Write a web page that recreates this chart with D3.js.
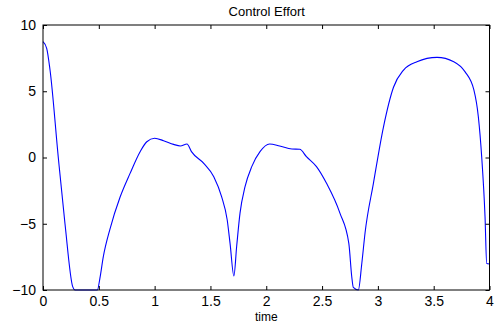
<!DOCTYPE html>
<html>
<head>
<meta charset="utf-8">
<script src="https://cdn.jsdelivr.net/npm/d3@7/dist/d3.min.js"></script>
<style>
  html, body { margin: 0; padding: 0; background: #fff; }
  svg { display: block; }
  text { font-family: "Liberation Sans", Arial, Helvetica, sans-serif; fill: #000; }
</style>
</head>
<body>
<svg id="chart" width="497" height="324"></svg>
<script>
const title = "Control Effort";
const xLabel = "time";
const xTicks = [0, 0.5, 1, 1.5, 2, 2.5, 3, 3.5, 4];
const yTicks = [-10, -5, 0, 5, 10];
const timeValues = [0, 0.033, 0.063, 0.137, 0.197, 0.266, 0.287, 0.487, 0.51, 0.54, 0.6, 0.69, 0.78, 0.87, 0.93, 1.0, 1.08, 1.17, 1.23, 1.29, 1.33, 1.44, 1.53, 1.6, 1.65, 1.676, 1.71, 1.735, 1.765, 1.81, 1.87, 1.944, 2.03, 2.12, 2.23, 2.30, 2.36, 2.45, 2.54, 2.66, 2.74, 2.766, 2.78, 2.825, 2.856, 2.885, 2.96, 3.05, 3.14, 3.23, 3.35, 3.53, 3.68, 3.78, 3.86, 3.9, 3.93, 3.96, 3.975, 4.0];
const effortValues = [8.74, 8.24, 6.6, 0, -5, -9.75, -10, -10, -9.1, -7.5, -5.4, -3.0, -1.2, 0.44, 1.19, 1.45, 1.27, 0.99, 0.87, 1.02, 0.44, -0.44, -1.45, -2.96, -4.7, -6.5, -8.94, -6.7, -4.2, -2.2, -0.69, 0.44, 1.02, 0.87, 0.64, 0.62, 0.06, -0.69, -1.95, -4.2, -6.5, -9.0, -9.8, -10, -8.0, -5.7, -1.95, 2.3, 5.3, 6.6, 7.23, 7.56, 7.23, 6.48, 5.1, 3.08, 0.06, -4.47, -8.0, -8.04];

const svg = d3.select("#chart");
const m = { left: 43, right: 497 - 489.5, top: 25, bottom: 324 - 290 };
const W = 497, H = 324;
const x = d3.scaleLinear().domain([0, 4]).range([m.left, W - m.right]);
const y = d3.scaleLinear().domain([-10, 10]).range([H - m.bottom, m.top]);

const fmt = d => (d < 0 ? "\u2212" + Math.abs(d) : String(d));

// curve
const data = timeValues.map((t, i) => [t, effortValues[i]]);
svg.append("path")
  .datum(data)
  .attr("fill", "none")
  .attr("stroke", "#0000ff")
  .attr("stroke-width", 1.1)
  .attr("d", d3.line().x(d => x(d[0])).y(d => y(d[1])).curve(d3.curveMonotoneX));

// axes
const gb = svg.append("g").attr("transform", `translate(0,${y(-10)})`)
  .call(d3.axisBottom(x).tickValues(xTicks).tickSizeInner(-4).tickSizeOuter(0).tickPadding(6).tickFormat(fmt));
const gt = svg.append("g").attr("transform", `translate(0,${y(10)})`)
  .call(d3.axisTop(x).tickValues(xTicks).tickSizeInner(-4).tickSizeOuter(0).tickFormat(""));
const gl = svg.append("g").attr("transform", `translate(${x(0)},0)`)
  .call(d3.axisLeft(y).tickValues(yTicks).tickSizeInner(-4).tickSizeOuter(0).tickPadding(7).tickFormat(fmt));
const gr = svg.append("g").attr("transform", `translate(${x(4)},0)`)
  .call(d3.axisRight(y).tickValues(yTicks).tickSizeInner(-4).tickSizeOuter(0).tickFormat(""));

[gb, gt, gl, gr].forEach(g => {
  g.select(".domain").remove();
  g.selectAll("line").attr("stroke", "#000").attr("stroke-width", 1);
  g.selectAll("text").attr("font-size", 14).attr("font-family", "Liberation Sans, Arial, sans-serif").attr("fill", "#000");
});

svg.append("rect")
  .attr("x", x(0)).attr("y", y(10))
  .attr("width", x(4) - x(0)).attr("height", y(-10) - y(10))
  .attr("fill", "none").attr("stroke", "#000").attr("stroke-width", 1);

svg.append("text")
  .attr("x", (x(0) + x(4)) / 2 + 0.5).attr("y", 16)
  .attr("text-anchor", "middle").attr("font-size", 13)
  .text(title);

svg.append("text")
  .attr("x", (x(0) + x(4)) / 2).attr("y", 321)
  .attr("text-anchor", "middle").attr("font-size", 12)
  .text(xLabel);
</script>
</body>
</html>
